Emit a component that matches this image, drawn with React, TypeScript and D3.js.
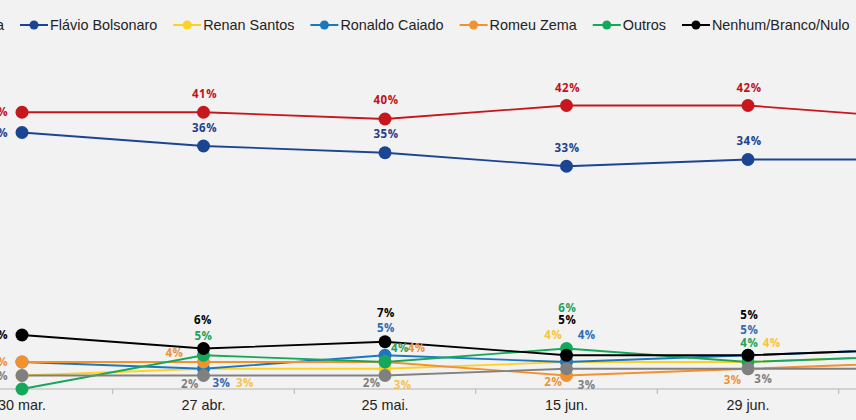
import React, { useMemo } from "react";
import * as d3 from "d3";

// ---- data ----
const dates = ["30 mar.", "27 abr.", "25 mai.", "15 jun.", "29 jun.", "13 jul."];
const seriesNames = [
  "Lula",
  "Flávio Bolsonaro",
  "Renan Santos",
  "Ronaldo Caiado",
  "Romeu Zema",
  "Outros",
  "Nenhum/Branco/Nulo",
  "Não sabe",
];
const lula = [41, 41, 40, 42, 42, 40];
const flavio = [38, 36, 35, 33, 34, 34];
const renan = [2, 3, 3, 4, 4, 5];
const caiado = [4, 3, 5, 4, 5, 6];
const zema = [4, 4, 4, 2, 3, 4];
const outros = [0, 5, 4, 6, 4, 5];
const nenhum = [8, 6, 7, 5, 5, 6];
const naoSabe = [2, 2, 2, 3, 3, 3];

const seriesValues = [lula, flavio, renan, caiado, zema, outros, nenhum, naoSabe];

// ---- styles ----
const lineColors = ["#c8161d", "#1b4592", "#ffd21f", "#1a77c0", "#f2922f", "#16a85a", "#000000", "#808080"];
const labelColors = ["#c0121a", "#1f3f8a", "#f5c542", "#2f6cb5", "#ef9236", "#1ea35c", "#000000", "#7f7f7f"];

// label placement (dx, dy from point center; anchor), null = hidden
type Off = [number, number, string] | null;
const L: Off = [-14, 0, "end"];
const labelOffsets: Off[][] = [
  [L, [1, -18, "middle"], [1, -19, "middle"], [1, -18, "middle"], [1, -18, "middle"], [0, -18, "middle"]],
  [L, [1, -18.5, "middle"], [1, -18.7, "middle"], [0.5, -18, "middle"], [1, -18.5, "middle"], [0, -18, "middle"]],
  [null, [41.5, 14.5, "middle"], [17.7, 16.3, "middle"], [-13.2, -27.3, "middle"], [23.7, -19.3, "middle"], [0, -18, "middle"]],
  [null, [18, 14.5, "middle"], [1, -27, "middle"], [20.2, -27.3, "middle"], [1.3, -25, "middle"], [0, -18, "middle"]],
  [L, [-29, -9, "middle"], [31.7, -13.7, "middle"], [-13.2, 6.2, "middle"], [-15.3, 11.3, "middle"], [0, 18, "middle"]],
  [null, [0, -19.3, "middle"], [15, -13.7, "middle"], [0.8, -41, "middle"], [1.3, -19.3, "middle"], [0, -18, "middle"]],
  [L, [-0.5, -28.5, "middle"], [1, -28.5, "middle"], [0.8, -35, "middle"], [1.3, -40, "middle"], [0, -28, "middle"]],
  [L, [-13.5, 8, "middle"], [-13.3, 7.2, "middle"], [20.2, 16.3, "middle"], [15.3, 10.5, "middle"], [0, 16, "middle"]],
];

const W = 856;
const H = 420;
const AXIS_Y = 389;
const STEP = 181.5;
const FIRST_X = 22;
const LEGEND_FS = 14.4;

function measure(text: string, font: string): number {
  try {
    const c = document.createElement("canvas");
    const ctx = c.getContext("2d");
    if (ctx) {
      ctx.font = font;
      return ctx.measureText(text).width;
    }
  } catch (e) {}
  return text.length * 7.5;
}

export default function App() {
  const x = useMemo(
    () =>
      d3
        .scaleBand<string>()
        .domain(dates)
        .range([FIRST_X - STEP / 2, FIRST_X - STEP / 2 + STEP * dates.length])
        .padding(0),
    []
  );
  const y = useMemo(() => d3.scaleLinear().domain([0, 45]).range([AXIS_Y, AXIS_Y - 45 * 6.75]), []);
  const cx = (d: string) => (x(d) as number) + x.bandwidth() / 2;

  const line = d3
    .line<number>()
    .x((_, i) => cx(dates[i]))
    .y((v) => y(v));

  // legend layout
  const legendFont = `${LEGEND_FS}px 'Liberation Sans', Arial, sans-serif`;
  const MARK = 28;
  const GAP_TXT = 2;
  const GAP_ITEM = 16;
  const widths = seriesNames.map((n) => measure(n, legendFont));
  const startX = 20 - GAP_ITEM - widths[0] - GAP_TXT - MARK;
  const legendX: number[] = [];
  let acc = startX;
  widths.forEach((w) => {
    legendX.push(acc);
    acc += MARK + GAP_TXT + w + GAP_ITEM;
  });

  return (
    <div style={{ position: "fixed", left: 0, top: 0, width: W, height: H, background: "#f2f2f2" }}>
      <svg width={W} height={H} style={{ display: "block" }}>
        <rect width={W} height={H} fill="#f2f2f2" />
        {/* legend */}
        <g>
          {seriesNames.map((n, i) => (
            <g key={n} transform={`translate(${legendX[i]},25)`}>
              <line x1={0} x2={MARK} y1={0} y2={0} stroke={lineColors[i]} strokeWidth={2} />
              <circle cx={MARK / 2} cy={0} r={4.5} fill={lineColors[i]} />
              <text
                x={MARK + GAP_TXT}
                y={5}
                fontFamily="'Liberation Sans', Arial, sans-serif"
                fontSize={LEGEND_FS}
                fill="#222"
              >
                {n}
              </text>
            </g>
          ))}
        </g>
        {/* x axis */}
        <line x1={0} x2={W} y1={AXIS_Y} y2={AXIS_Y} stroke="#b3b3b3" strokeWidth={1} />
        {dates.slice(1).map((d) => (
          <line key={d} x1={x(d)} x2={x(d)} y1={AXIS_Y} y2={AXIS_Y + 5} stroke="#b3b3b3" strokeWidth={1} />
        ))}
        {dates.map((d) => (
          <text
            key={d}
            x={cx(d)}
            y={410}
            textAnchor="middle"
            fontFamily="'Liberation Sans', Arial, sans-serif"
            fontSize={14.4}
            fill="#222"
          >
            {d}
          </text>
        ))}
        {/* lines */}
        {seriesValues.map((vals, i) => (
          <path key={i} d={line(vals) || ""} fill="none" stroke={lineColors[i]} strokeWidth={1.8} />
        ))}
        {/* dots */}
        {seriesValues.map((vals, i) => (
          <g key={i}>
            {vals.map((v, j) => (
              <circle key={j} cx={cx(dates[j])} cy={y(v)} r={6.5} fill={lineColors[i]} />
            ))}
          </g>
        ))}
        {/* labels */}
        {seriesValues.map((vals, i) => (
          <g key={i}>
            {vals.map((v, j) => {
              const o = labelOffsets[i][j];
              if (!o) return null;
              return (
                <text
                  key={j}
                  x={cx(dates[j]) + o[0]}
                  y={y(v) + o[1]}
                  dy="0.35em"
                  textAnchor={o[2]}
                  fontFamily="'Open Sans', sans-serif"
                  fontWeight={700}
                  fontSize={11.5}
                  letterSpacing={0.5}
                  fill={labelColors[i]}
                >
                  {`${v}%`}
                </text>
              );
            })}
          </g>
        ))}
      </svg>
    </div>
  );
}
